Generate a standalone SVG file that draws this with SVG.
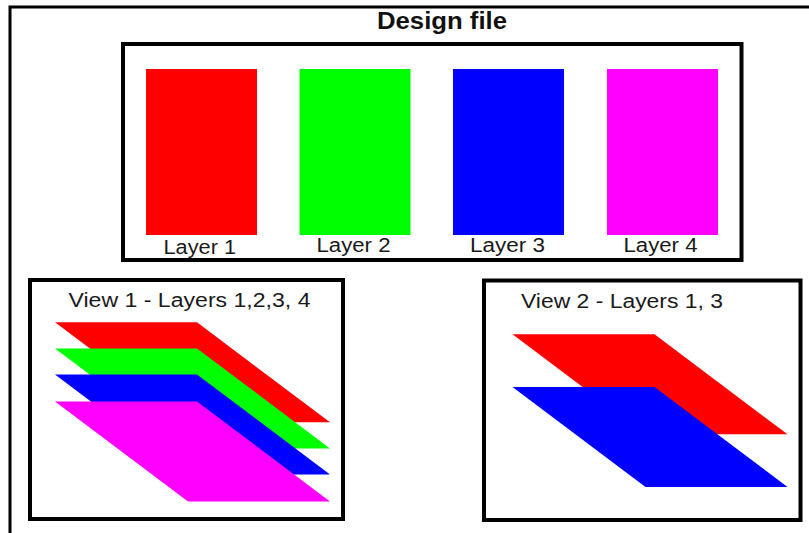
<svg xmlns="http://www.w3.org/2000/svg" width="809" height="533" viewBox="0 0 809 533">
  <style>
    .frame { fill: none; stroke: #000; stroke-width: 3; }
    .box { fill: #fff; stroke: #000; stroke-width: 4; }
    .label { font-family: "Liberation Sans", Arial, sans-serif; font-size: 20px; fill: #1a1a1a; }
    .title { font-family: "Liberation Sans", Arial, sans-serif; font-size: 23.5px; font-weight: bold; fill: #111; }
    .red { fill: #ff0000; }
    .green { fill: #00ff00; }
    .blue { fill: #0000ff; }
    .magenta { fill: #ff00ff; }
  </style>
  <defs>
    <!-- one layer sheet seen in perspective -->
    <polygon id="sheet" points="0,0 142,0 275,100 133,100"/>
  </defs>

  <rect width="809" height="533" fill="#fff"/>

  <!-- outer frame: top and left edges only -->
  <path class="frame" d="M10,533 V7 H809"/>

  <text class="title" x="377" y="28.5" textLength="130" lengthAdjust="spacingAndGlyphs">Design file</text>

  <!-- design file with its four layers -->
  <g id="design-file">
    <rect class="box" x="123" y="44" width="618.5" height="216"/>
    <g id="layer1">
      <rect class="red" x="146" y="69" width="111" height="166"/>
      <text class="label" x="163.5" y="253.5" textLength="72.5" lengthAdjust="spacingAndGlyphs">Layer 1</text>
    </g>
    <g id="layer2">
      <rect class="green" x="299.5" y="69" width="111" height="166"/>
      <text class="label" x="316.5" y="252" textLength="74" lengthAdjust="spacingAndGlyphs">Layer 2</text>
    </g>
    <g id="layer3">
      <rect class="blue" x="453" y="69" width="111" height="166"/>
      <text class="label" x="470" y="252" textLength="75" lengthAdjust="spacingAndGlyphs">Layer 3</text>
    </g>
    <g id="layer4">
      <rect class="magenta" x="607" y="69" width="111" height="166"/>
      <text class="label" x="623.5" y="252" textLength="74" lengthAdjust="spacingAndGlyphs">Layer 4</text>
    </g>
  </g>

  <!-- view 1: all four layers stacked -->
  <g id="view1">
    <rect class="box" x="30" y="280" width="313" height="239"/>
    <text class="label" x="68.5" y="307" textLength="242" lengthAdjust="spacingAndGlyphs">View 1 - Layers 1,2,3, 4</text>
    <use href="#sheet" class="red" x="55" y="322.3"/>
    <use href="#sheet" class="green" x="55" y="348.5"/>
    <use href="#sheet" class="blue" x="55" y="374.5"/>
    <use href="#sheet" class="magenta" x="55" y="401.5"/>
  </g>

  <!-- view 2: layers 1 and 3 only -->
  <g id="view2">
    <rect class="box" x="484" y="280.5" width="316.5" height="239.5"/>
    <text class="label" x="521" y="307.5" textLength="202" lengthAdjust="spacingAndGlyphs">View 2 - Layers 1, 3</text>
    <use href="#sheet" class="red" x="512.5" y="334.3"/>
    <use href="#sheet" class="blue" x="512.5" y="387"/>
  </g>
</svg>
